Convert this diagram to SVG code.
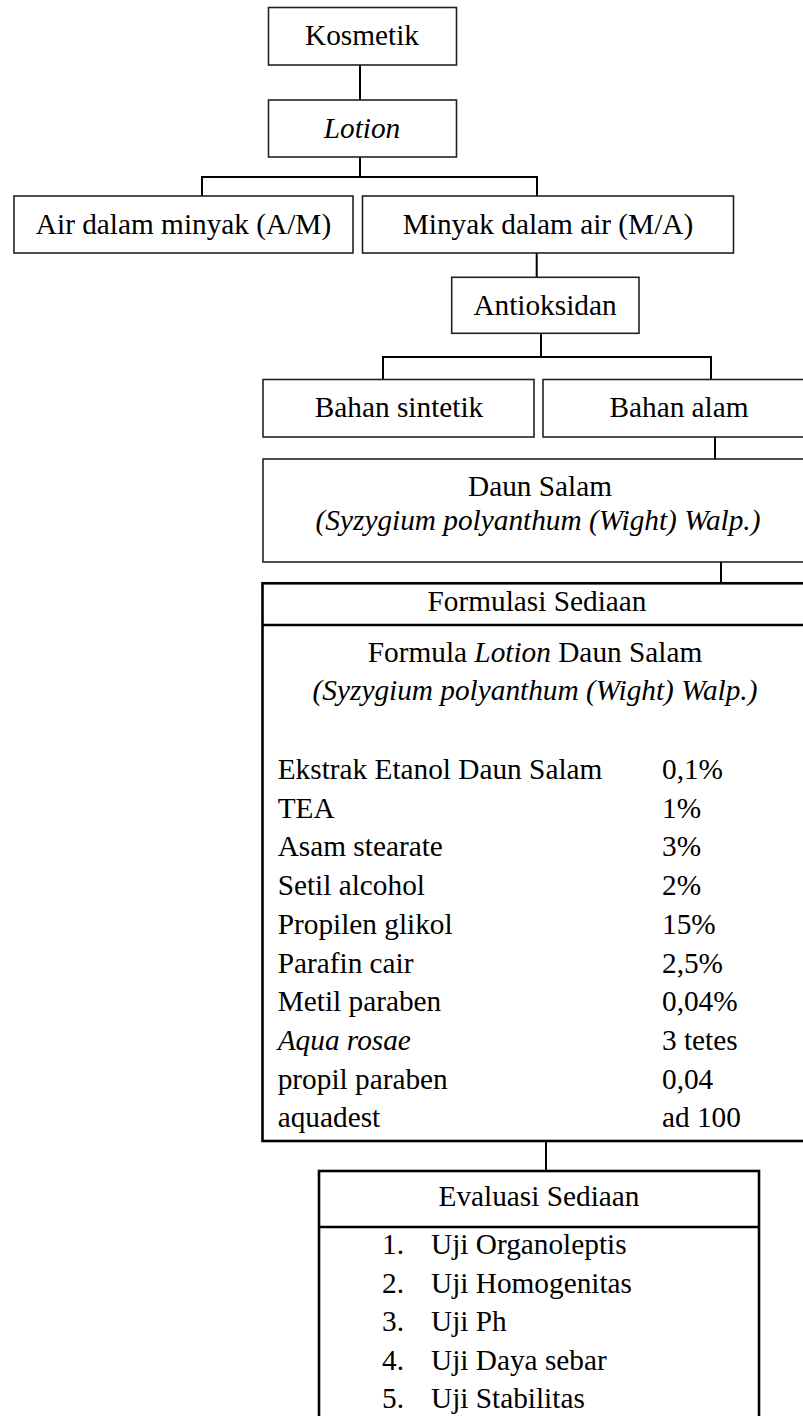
<svg xmlns="http://www.w3.org/2000/svg" width="803" height="1416" viewBox="0 0 803 1416" font-family="'Liberation Serif', 'Times New Roman', Tinos, 'DejaVu Serif', serif">
<style>
text{font-family:"Liberation Serif","Times New Roman",Tinos,"DejaVu Serif",serif;font-size:29.3px;fill:#000}
.c{text-anchor:middle}
.i{font-style:italic}
.box{fill:#fff;stroke:#222;stroke-width:1.6}
.thick{fill:#fff;stroke:#000;stroke-width:2.6}
.ln{stroke:#000;stroke-width:2;fill:none}
</style>
<rect width="803" height="1416" fill="#fff"/>
<g id="connectors">
<path class="ln" d="M360 65V100"/>
<path class="ln" d="M360 157V177M202 196V177H537V196"/>
<path class="ln" d="M536.7 253V277"/>
<path class="ln" d="M541 333V357M383 379V357H711V379"/>
<path class="ln" d="M715 437V459"/>
<path class="ln" d="M721 562V583"/>
<path class="ln" d="M546 1141V1171"/>
</g>
<g id="kosmetik"><rect class="box" x="268.5" y="7.5" width="188" height="57.5"/><text class="c" x="362" y="45">Kosmetik</text></g>
<g id="lotion"><rect class="box" x="268.5" y="100" width="188" height="57"/><text class="c i" x="362" y="138">Lotion</text></g>
<g id="am"><rect class="box" x="14" y="196" width="339" height="57"/><text class="c" x="183.5" y="234">Air dalam minyak (A/M)</text></g>
<g id="ma"><rect class="box" x="362.5" y="196" width="371" height="57"/><text class="c" x="548" y="234">Minyak dalam air (M/A)</text></g>
<g id="antioksidan"><rect class="box" x="451.7" y="277.3" width="187.3" height="56"/><text class="c" x="545" y="315">Antioksidan</text></g>
<g id="sintetik"><rect class="box" x="263" y="379.5" width="271" height="57.5"/><text class="c" x="399" y="417">Bahan sintetik</text></g>
<g id="alam"><rect class="box" x="543" y="379.5" width="275" height="57.5"/><text class="c" x="679" y="417">Bahan alam</text></g>
<g id="daunsalam"><rect class="box" x="263" y="459" width="555" height="103"/><text class="c" x="540" y="496">Daun Salam</text><text class="c i" x="538" y="530">(Syzygium polyanthum (Wight) Walp.)</text></g>
<g id="formulasi">
<rect class="thick" x="262.5" y="583.3" width="560" height="557.7"/>
<path class="ln" d="M262.5 625H803" style="stroke-width:2.6"/>
<text class="c" x="537" y="611">Formulasi Sediaan</text>
<text class="c" x="535" y="662">Formula <tspan class="i">Lotion</tspan> Daun Salam</text>
<text class="c i" x="535" y="700">(Syzygium polyanthum (Wight) Walp.)</text>
<text x="277.7" y="779">Ekstrak Etanol Daun Salam</text><text x="662" y="779">0,1%</text>
<text x="277.7" y="817.7">TEA</text><text x="662" y="817.7">1%</text>
<text x="277.7" y="856.4">Asam stearate</text><text x="662" y="856.4">3%</text>
<text x="277.7" y="895.1">Setil alcohol</text><text x="662" y="895.1">2%</text>
<text x="277.7" y="933.8">Propilen glikol</text><text x="662" y="933.8">15%</text>
<text x="277.7" y="972.5">Parafin cair</text><text x="662" y="972.5">2,5%</text>
<text x="277.7" y="1011.2">Metil paraben</text><text x="662" y="1011.2">0,04%</text>
<text class="i" x="277.7" y="1049.9">Aqua rosae</text><text x="662" y="1049.9">3 tetes</text>
<text x="277.7" y="1088.6">propil paraben</text><text x="662" y="1088.6">0,04</text>
<text x="277.7" y="1127.3">aquadest</text><text x="662" y="1127.3">ad 100</text>
</g>
<g id="evaluasi">
<rect class="thick" x="319" y="1171" width="440" height="260"/>
<path class="ln" d="M319 1227H759" style="stroke-width:2.6"/>
<text class="c" x="539" y="1206">Evaluasi Sediaan</text>
<text x="382" y="1254">1.</text><text x="431" y="1254">Uji Organoleptis</text>
<text x="382" y="1293">2.</text><text x="431" y="1293">Uji Homogenitas</text>
<text x="382" y="1331">3.</text><text x="431" y="1331">Uji Ph</text>
<text x="382" y="1370">4.</text><text x="431" y="1370">Uji Daya sebar</text>
<text x="382" y="1408">5.</text><text x="431" y="1408">Uji Stabilitas</text>
</g>
</svg>
